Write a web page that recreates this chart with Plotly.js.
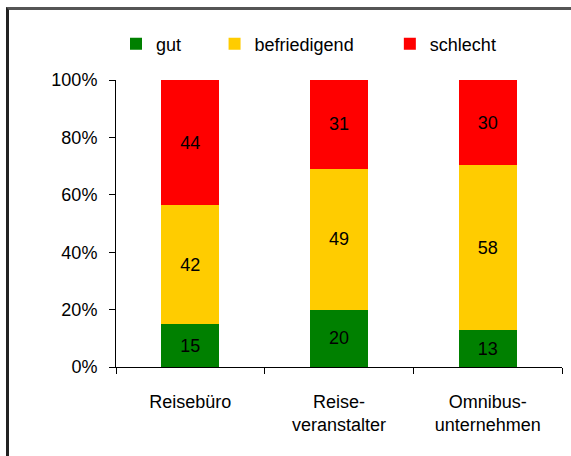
<!DOCTYPE html>
<html>
<head>
<meta charset="utf-8">
<script src="https://cdn.plot.ly/plotly-3.0.1.min.js"></script>
<style>
  body { margin: 0; background: #fff; }
  #frame {
    position: absolute; left: 6px; top: 7px;
    width: 565px; height: 449px;
    border-top: 3px solid #555; border-left: 3px solid #222;
  }
</style>
</head>
<body>
<div id="frame"><div id="chart"></div></div>
<script>
// Anteile in Prozent je Anbieter
let kategorien = ['Reisebüro', 'Reiseveranstalter', 'Omnibusunternehmen'];
let beschriftung = ['Reisebüro', 'Reise-<br>veranstalter', 'Omnibus-<br>unternehmen'];
let gut = [15, 20, 13];
let befriedigend = [42, 49, 58];
let schlecht = [44, 31, 30];

let schrift = 'Liberation Sans, Arial, sans-serif';

function balken(name, werte, farbe, legende){
    return {
        type: 'bar',
        name: name,
        x: kategorien,
        y: werte,
        text: werte.map(String),
        texttemplate: '%{text}',
        textposition: 'inside',
        insidetextanchor: 'middle',
        textangle: 0,
        textfont: {family: schrift, size: 18, color: '#000'},
        marker: {color: farbe, line: {width: 0}},
        legend: legende,
        showlegend: true,
        hoverinfo: 'none'
    };
}

let daten = [
    balken('gut', gut, '#008000', 'legend'),
    balken('befriedigend', befriedigend, '#FFCC00', 'legend2'),
    balken('schlecht', schlecht, '#FF0000', 'legend3')
];

function leg(x){
    return {
        x: x, y: 1.125, xanchor: 'left', yanchor: 'middle',
        orientation: 'h', bgcolor: 'rgba(0,0,0,0)',
        font: {family: schrift, size: 18, color: '#000'},
        itemwidth: 30, tracegroupgap: 0
    };
}

let layout = {
    width: 562, height: 446,
    margin: {l: 107, r: 9, t: 70, b: 89},
    paper_bgcolor: '#fff',
    plot_bgcolor: '#fff',
    barmode: 'stack',
    barnorm: 'percent',
    bargap: 0.61,
    font: {family: schrift, size: 18, color: '#000'},
    showlegend: true,
    legend: leg(0.0),
    legend2: leg(0.221),
    legend3: leg(0.614),
    xaxis: {
        tickvals: kategorien,
        ticktext: beschriftung,
        tickson: 'boundaries',
        ticks: 'outside',
        ticklen: 6,
        tickcolor: '#000',
        showline: true,
        linecolor: '#000',
        linewidth: 1,
        showgrid: false,
        ticklabelstandoff: 18,
        tickfont: {family: schrift, size: 18, color: '#000'}
    },
    yaxis: {
        range: [0, 100],
        dtick: 20,
        ticksuffix: '%',
        ticks: 'outside',
        ticklen: 6,
        tickcolor: '#000',
        showline: true,
        linecolor: '#000',
        linewidth: 1,
        showgrid: false,
        zeroline: false,
        ticklabelstandoff: 8,
        tickfont: {family: schrift, size: 18, color: '#000'}
    }
};

Plotly.newPlot('chart', daten, layout, {displayModeBar: false, staticPlot: true});
</script>
</body>
</html>
